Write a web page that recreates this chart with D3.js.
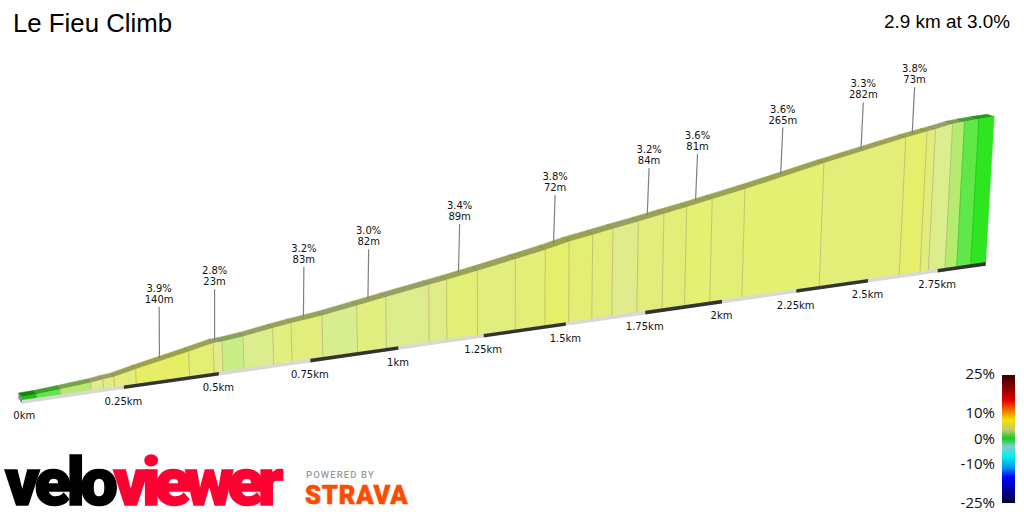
<!DOCTYPE html>
<html><head><meta charset="utf-8">
<style>html,body{margin:0;padding:0;background:#fff;overflow:hidden}svg{display:block}</style>
<script src="https://cdn.jsdelivr.net/npm/d3@7"></script></head>
<body><svg id="c" width="1024" height="512"></svg>
<script>
// ---- data ----
const titleText = "Le Fieu Climb";
const summaryText = "2.9 km at 3.0%";
const segmentEndKm = [-0.008,0.0292,0.0894,0.1658,0.1974,0.2257,0.2821,0.422,0.4873,0.5111,0.5678,0.6488,0.6992,0.785,0.8825,0.965,1.089,1.141,1.2316,1.345,1.4354,1.5085,1.5807,1.6436,1.723,1.804,1.8768,1.9593,2.066,2.329,2.611,2.686,2.716,2.777,2.82,2.872,2.928];
const elevationM   = [0,0.2,1.1,2.5,3.37,3.95,6.74,12.87,15.87,16.05,17.28,19.83,21.29,23.22,26.32,28.92,32.72,34.2,37.05,40.9,44.0,47.0,49.08,51.0,53.3,55.8,57.92,60.6,63.9,73.04,81.74,83.6,84.3,86.1,86.5,86.9,87.0];
const segmentGradePct = [0.1,0.8,1.5,2.7,2.9,3.3,3.9,3.5,2.8,1.8,2.5,3.0,3.2,2.4,3.0,2.6,2.8,3.4,3.1,3.3,3.8,3.5,3.3,2.7,3.2,3.3,3.6,3.4,3.6,3.3,3.8,3.2,2.5,1.5,0.8,0.3];
const calloutSegment = [6,8,12,14,17,20,24,26,28,29,30];
const calloutPct     = ["3.9%","2.8%","3.2%","3.0%","3.4%","3.8%","3.2%","3.6%","3.6%","3.3%","3.8%"];
const calloutLen     = ["140m","23m","83m","82m","89m","72m","84m","81m","265m","282m","73m"];
const tickKm     = [0,0.25,0.5,0.75,1,1.25,1.5,1.75,2,2.25,2.5,2.75];
const tickLabels = ["0km","0.25km","0.5km","0.75km","1km","1.25km","1.5km","1.75km","2km","2.25km","2.5km","2.75km"];
const bandColors = ["#d8d8d8","#333333"];
const faceGrades = [0.1,0.3,0.8,1.5,1.8,2.4,2.7,3.0,3.3,3.6,3.9];
const faceColors = ["#22c015","#2ee620","#5fe848","#b5ec70","#c8ee85","#d8ee8e","#e0eb8c","#e1ee80","#e2ee78","#e3f072","#e6ee66"];
const legendPct    = [25,20,15,11,7.4,3.5,0.3,-3,-7,-11,-15,-21,-25];
const legendColors = ["#3a0000","#8a0000","#e60000","#f07800","#f2e400","#c8c870","#11cc22","#88cccc","#00eeee","#0099ee","#0000ff","#000088","#000033"];
const legendTicks  = [25,10,0,-10,-25];
const legendLabels = ["25%","10%","0%","-10%","-25%"];
const legendLabelDy = [3.5,5,4.5,3.9,4.5];

// ---- scales: perspective along the road, then height ----
const svg = d3.select("#c");
const PERSP = 0.077;
const persp = km => km/(1+PERSP*km);
const xScale = d3.scaleLinear().domain([persp(0),persp(2.75)]).range([25.3,937.6]);
const baseY  = d3.scaleLinear().domain([22,985.7]).range([400.5,262.5]);
const hScale = d3.scaleLinear().domain([0,87]).range([3.8,145.8]);
const depthX = d3.scaleLinear().domain([0,1.5,2.93]).range([-3.5,-6,-7]);
const depthY = d3.scaleLinear().domain([0,1.5,2.93]).range([-3.7,-4.6,-2.5]);
const calloutM = d3.scaleLinear().domain([0.3,2.65]).range([31.5,27.6]);
const headShift = d3.scaleLinear().domain([0.3,2.65]).range([-1,-4]);
const VP_X = 500, VP_DIST = 8400, BAND = 3.6;
const faceScale = d3.scaleLinear().domain(faceGrades).range(faceColors).interpolate(d3.interpolateRgb);

function basePt(km){ const x=xScale(persp(km)); return [x, baseY(x)]; }
function topPt(km,e){ const [x,y]=basePt(km); const h=hScale(e); return [x+(x-VP_X)*h/VP_DIST, y-h]; }
function backPt(km,e){ const [x,y]=topPt(km,e); return [x+depthX(km), y+depthY(km)]; }
function shade(col,k){ const c=d3.rgb(col); return d3.rgb(c.r*k,c.g*k,c.b*k).formatHex(); }
const poly = d3.line();

const segs = segmentGradePct.map((g,i)=>({g,i,k0:segmentEndKm[i],k1:segmentEndKm[i+1],e0:elevationM[i],e1:elevationM[i+1]}));
const n0 = segmentEndKm[0], nEnd = segmentEndKm[segmentEndKm.length-1];
const bandStops = [n0,...tickKm.slice(1),nEnd];

// start cap
const capA=topPt(n0,elevationM[0]), capB=backPt(n0,elevationM[0]), capC=basePt(n0);
svg.append("path").attr("d",poly([capB,capA,[capC[0],capC[1]+BAND-0.6],[capB[0],capC[1]-2]])+"Z").attr("fill","#8a8a8a");

// top strip
svg.append("g").selectAll("path").data(segs).join("path")
  .attr("d",d=>poly([backPt(d.k0,d.e0),backPt(d.k1,d.e1),topPt(d.k1,d.e1),topPt(d.k0,d.e0)])+"Z")
  .attr("fill",d=>shade(faceScale(d.g),0.68)).attr("stroke",d=>shade(faceScale(d.g),0.68)).attr("stroke-width",0.5);
svg.append("g").selectAll("line").data(segs.slice(1)).join("line")
  .attr("x1",d=>backPt(d.k0,d.e0)[0]).attr("y1",d=>backPt(d.k0,d.e0)[1])
  .attr("x2",d=>topPt(d.k0,d.e0)[0]).attr("y2",d=>topPt(d.k0,d.e0)[1])
  .attr("stroke",d=>shade(faceScale(d.g),0.58)).attr("stroke-width",0.8);

// front wall
svg.append("g").selectAll("path").data(segs).join("path")
  .attr("d",d=>poly([topPt(d.k0,d.e0),topPt(d.k1,d.e1),basePt(d.k1),basePt(d.k0)])+"Z")
  .attr("fill",d=>faceScale(d.g)).attr("stroke",d=>faceScale(d.g)).attr("stroke-width",0.4);
svg.append("g").selectAll("line").data(segs.slice(1)).join("line")
  .attr("x1",d=>topPt(d.k0,d.e0)[0]).attr("y1",d=>topPt(d.k0,d.e0)[1])
  .attr("x2",d=>basePt(d.k0)[0]).attr("y2",d=>basePt(d.k0)[1])
  .attr("stroke",d=>d3.interpolateRgb(shade(faceScale(d.g),0.88),"#c8b878")(d.g>1.2?0.6:0)).attr("stroke-width",1);

// base band, one stretch per quarter km
svg.append("g").selectAll("path").data(d3.pairs(bandStops)).join("path")
  .attr("d",([a,b])=>{const p=basePt(a),q=basePt(b);return poly([[p[0],p[1]-0.4],[q[0],q[1]-0.4],[q[0],q[1]+BAND-0.4],[p[0],p[1]+BAND-0.4]])+"Z";})
  .attr("fill",(d,i)=>bandColors[i%2]);

// callouts
const callouts = calloutSegment.map((s,i)=>{
  const d=segs[s], km=(d.k0+d.k1)/2, e=(d.e0+d.e1)/2, f=topPt(km,e), b=backPt(km,e);
  const head=topPt(km,e+calloutM(km));
  return {anchor:[(f[0]+b[0])/2-0.8,(f[1]+b[1])/2], head:[head[0]+headShift(km),head[1]], pct:calloutPct[i], len:calloutLen[i]};
});
const labelFont='"DejaVu Sans",sans-serif';
const cg = svg.append("g").selectAll("g").data(callouts).join("g");
cg.append("line").attr("x1",d=>d.anchor[0]).attr("y1",d=>d.anchor[1]).attr("x2",d=>d.head[0]).attr("y2",d=>d.head[1]-2.5)
  .attr("stroke","#808080").attr("stroke-width",1.2);
cg.append("text").attr("x",d=>d.head[0]).attr("y",d=>d.head[1]-17.5).text(d=>d.pct);
cg.append("text").attr("x",d=>d.head[0]).attr("y",d=>d.head[1]-6.5).text(d=>d.len);
cg.selectAll("text").attr("text-anchor","middle").attr("font-family",labelFont).attr("font-size",10).attr("fill","#111");

// km ticks
svg.append("g").selectAll("text").data(tickKm).join("text")
  .attr("x",d=>basePt(d)[0]-(d===0?1:0.5)).attr("y",d=>basePt(d)[1]+19)
  .attr("text-anchor","middle").attr("font-family",labelFont).attr("font-size",10).attr("fill","#111")
  .text((d,i)=>tickLabels[i]);

// titles
svg.append("text").attr("x",13).attr("y",32).attr("font-family",'"Liberation Sans",sans-serif').attr("font-size",25.8).attr("fill","#000").text(titleText);
svg.append("text").attr("x",1010).attr("y",28).attr("text-anchor","end").attr("font-family",'"Liberation Sans",sans-serif').attr("font-size",18.9).attr("fill","#000").text(summaryText);

// legend
const legendY = d3.scaleLinear().domain([25,-25]).range([375,503]);
const defs = svg.append("defs");
const grad = defs.append("linearGradient").attr("id","lg").attr("x1",0).attr("y1",0).attr("x2",0).attr("y2",1);
grad.selectAll("stop").data(legendPct).join("stop")
  .attr("offset",d=>(25-d)/50).attr("stop-color",(d,i)=>legendColors[i]);
svg.append("rect").attr("x",1002).attr("y",legendY(25)).attr("width",13).attr("height",legendY(-25)-legendY(25)).attr("fill","url(#lg)");
svg.append("g").selectAll("text").data(legendTicks).join("text")
  .attr("x",995).attr("y",(d,i)=>legendY(d)+legendLabelDy[i]).attr("text-anchor","end")
  .attr("font-family",'"Open Sans",sans-serif').attr("font-size",15).attr("fill","#111")
  .text((d,i)=>legendLabels[i]);

// logos as text
const logo = svg.append("g").attr("font-family","Roboto,sans-serif").attr("font-weight",900);
const vv = logo.append("text").attr("x",5).attr("y",505).attr("font-size",67);
vv.append("tspan").attr("letter-spacing",-4.6).attr("fill","#000").attr("stroke","#000").attr("stroke-width",1.6).text("velo");
vv.append("tspan").attr("letter-spacing",-6.0).attr("fill","#ff0033").attr("stroke","#ff0033").attr("stroke-width",1.6).text("viewer");
logo.append("text").attr("x",306).attr("y",477.5).attr("font-size",9.5).attr("font-weight",500).attr("letter-spacing",1.1)
  .attr("fill","#999").text("POWERED BY");
logo.append("text").attr("x",305).attr("y",503.5).attr("font-size",25.5).attr("letter-spacing",0.85).attr("fill","#fc4c02").attr("stroke","#fc4c02").attr("stroke-width",0.6).text("STRAVA");
</script></body></html>
